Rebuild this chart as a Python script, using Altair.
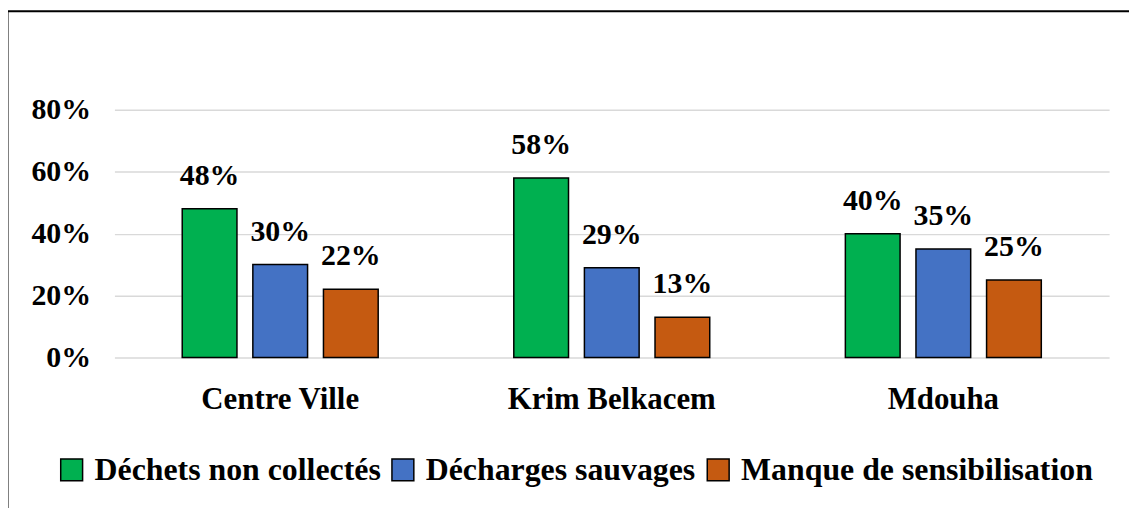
import altair as alt
import pandas as pd

zones = ["Centre Ville", "Krim Belkacem", "Mdouha"]
causes = ["Déchets non collectés", "Décharges sauvages", "Manque de sensibilisation"]
colors = ["#00B050", "#4472C4", "#C55A11"]
values = {
    "Centre Ville": [48, 30, 22],
    "Krim Belkacem": [58, 29, 13],
    "Mdouha": [40, 35, 25],
}
y_ticks = [0, 20, 40, 60, 80]

rows = []
for z in zones:
    for c, v in zip(causes, values[z]):
        rows.append({"zone": z, "cause": c, "value": v, "label": f"{v}%"})
df = pd.DataFrame(rows)

FONT = "'Liberation Serif', 'Times New Roman', Times, serif"

x_enc = alt.X(
    "zone:N", sort=zones, title=None,
    scale=alt.Scale(paddingInner=0.409, paddingOuter=0.2045),
    axis=alt.Axis(labelAngle=0, labelFont=FONT, labelFontSize=31, labelFontWeight="bold",
                  labelColor="#000000", labelPadding=27, ticks=False, domain=False,
                  labelLimit=500),
)
xo_enc = alt.XOffset("cause:N", sort=causes,
                     scale=alt.Scale(paddingInner=0.225, paddingOuter=0))
y_enc = alt.Y(
    "value:Q", title=None,
    scale=alt.Scale(domain=[0, 80], nice=False),
    axis=alt.Axis(values=y_ticks, labelExpr="datum.value + '%'", labelFont=FONT,
                  labelFontSize=30, labelFontWeight="bold", labelColor="#000000",
                  labelPadding=24, ticks=False, domain=False,
                  gridColor="#D9D9D9", gridWidth=1.5),
)

bars = alt.Chart(df).mark_bar(stroke="#000000", strokeWidth=1.5).encode(
    x=x_enc, xOffset=xo_enc, y=y_enc,
    color=alt.Color(
        "cause:N", sort=causes,
        scale=alt.Scale(domain=causes, range=colors),
        legend=alt.Legend(
            title=None, orient="none", direction="horizontal",
            legendX=-59, legendY=346,
            labelFont=FONT, labelFontSize=32, labelFontWeight="bold", labelColor="#000000",
            symbolType="square", symbolSize=484, symbolStrokeColor="#000000",
            symbolStrokeWidth=1.5, symbolOpacity=1, labelOffset=7, columnPadding=6,
            labelLimit=600,
        ),
    ),
)

texts = alt.Chart(df).mark_text(
    font=FONT, fontSize=30, fontWeight="bold", baseline="alphabetic", dy=-24, color="#000000"
).encode(x=x_enc, xOffset=xo_enc, y=y_enc, text="label:N")

border = alt.Chart(pd.DataFrame({"a": [0]})).mark_rect(
    fill=None, stroke="#000000", strokeWidth=2
).encode(
    x=alt.value(-107.5), x2=alt.value(1085), y=alt.value(-99), y2=alt.value(411)
)

chart = alt.layer(border, bars, texts).properties(
    width=1000, height=249,
    autosize=alt.AutoSizeParams(type="none"),
    padding={"left": 107, "top": 101, "right": 20, "bottom": 150},
).configure(background="#FFFFFF", view=alt.ViewConfig(stroke="transparent"))

chart.save("out.html", embed_options={"renderer": "svg", "actions": False})
